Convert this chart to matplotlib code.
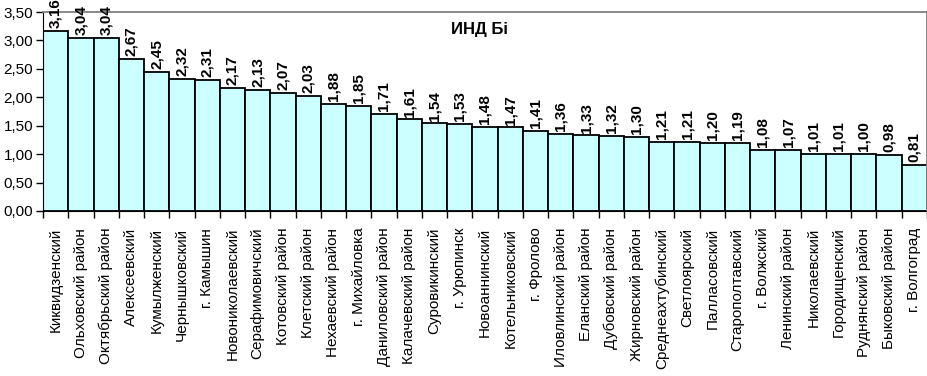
import numpy as np
import matplotlib
matplotlib.use('Agg')
import matplotlib.pyplot as plt
from matplotlib.ticker import FuncFormatter, FixedLocator

plt.rcParams['font.family'] = ['Liberation Sans', 'DejaVu Sans']

districts = ['Киквидзенский', 'Ольховский район', 'Октябрьский район', 'Алексеевский',
             'Кумылженский', 'Чернышковский', 'г. Камышин', 'Новониколаевский',
             'Серафимовичский', 'Котовский район', 'Клетский район', 'Нехаевский район',
             'г. Михайловка', 'Даниловский район', 'Калачевский район', 'Суровикинский',
             'г. Урюпинск', 'Новоаннинский', 'Котельниковский', 'г. Фролово',
             'Иловлинский район', 'Еланский район', 'Дубовский район', 'Жирновский район',
             'Среднеахтубинский', 'Светлоярский', 'Палласовский', 'Старополтавский',
             'г. Волжский', 'Ленинский район', 'Николаевский', 'Городищенский',
             'Руднянский район', 'Быковский район', 'г. Волгоград']
ind_values = [3.16, 3.04, 3.04, 2.67, 2.45, 2.32, 2.31, 2.17, 2.13, 2.07, 2.03, 1.88,
              1.85, 1.71, 1.61, 1.54, 1.53, 1.48, 1.47, 1.41, 1.36, 1.33, 1.32, 1.30,
              1.21, 1.21, 1.20, 1.19, 1.08, 1.07, 1.01, 1.01, 1.00, 0.98, 0.81]
chart_title = 'ИНД Бi'

fig = plt.figure(figsize=(9.28, 3.76), dpi=100)
ax = fig.add_axes([43 / 928, 1 - 211 / 376, 884 / 928, 199 / 376])

x = np.arange(len(districts))
ax.bar(x, ind_values, width=1.0, color='#CCFFFF', edgecolor='black', linewidth=1.3)

for xi, v in zip(x, ind_values):
    ax.text(xi, v + 0.05, f'{v:.2f}'.replace('.', ','), rotation=90, ha='center',
            va='bottom', fontsize=11, fontweight='bold', clip_on=False)

ax.set_xlim(-0.5, len(districts) - 0.5)
ax.set_ylim(0, 3.5)
ax.set_yticks(np.arange(0, 3.51, 0.5))
ax.yaxis.set_major_formatter(FuncFormatter(lambda v, p: f'{v:.2f}'.replace('.', ',')))
ax.tick_params(axis='y', labelsize=11, length=5, width=1, pad=2)

ax.set_xticks(x)
ax.set_xticklabels(districts, rotation=90, fontsize=11)
ax.tick_params(axis='x', which='major', length=0, pad=12)
ax.xaxis.set_minor_locator(FixedLocator(np.arange(-0.5, len(districts), 1.0)))
ax.tick_params(axis='x', which='minor', length=5, width=1)

for side in ['top', 'right']:
    ax.spines[side].set_color('#808080')
    ax.spines[side].set_linewidth(1.3)
ax.spines['left'].set_color('black')
ax.spines['bottom'].set_color('black')

ax.text(0.494, 0.91, chart_title, transform=ax.transAxes, ha='center', va='center',
        fontsize=12, fontweight='bold')

fig.savefig('out.png', dpi=100)
